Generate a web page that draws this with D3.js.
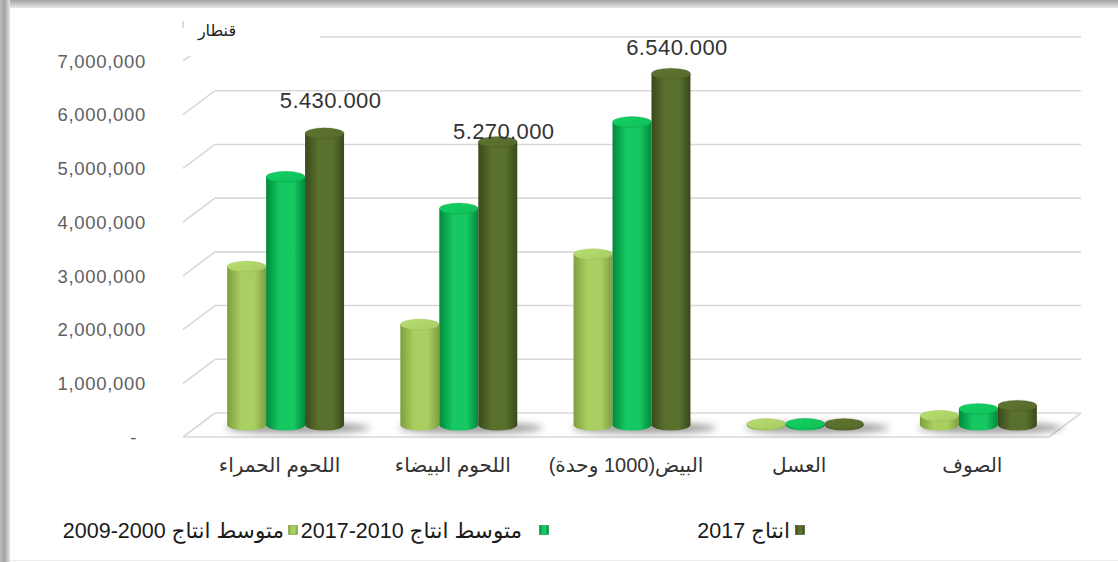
<!DOCTYPE html>
<html>
<head>
<meta charset="utf-8">
<script src="https://cdn.jsdelivr.net/npm/d3@7"></script>
<style>
  html, body { margin: 0; padding: 0; background: #ffffff; }
  svg { display: block; font-family: "Liberation Sans", Arial, "DejaVu Sans", sans-serif; }
</style>
</head>
<body>
<svg id="chart" width="1118" height="562"></svg>
<script>
// Livestock production, by product
const categories = ["اللحوم الحمراء", "اللحوم البيضاء", "البيض(1000 وحدة)", "العسل", "الصوف"];
const seriesNames = ["متوسط انتاج 2000-2009", "متوسط انتاج 2010-2017", "انتاج 2017"];
const avg2000_2009 = [2950000, 1870000, 3180000, 18000, 170000];
const avg2010_2017 = [4620000, 4030000, 5640000, 22000, 300000];
const prod2017     = [5430000, 5270000, 6540000, 20000, 360000];
const valueLabels  = ["5.430.000", "5.270.000", "6.540.000"];
const yTicks = [0, 1000000, 2000000, 3000000, 4000000, 5000000, 6000000, 7000000];
const unitTitle = "قنطار";

const series = [avg2000_2009, avg2010_2017, prod2017];

// palette: [edge, highlight, top]
const palettes = [
  ["#7e9e3c", "#a9cf62", "#a6c964"],
  ["#00893b", "#16c862", "#10bd58"],
  ["#3a491c", "#5a712d", "#56692b"]
];

const svg = d3.select("#chart");
const W = 1118, H = 562;
const defs = svg.append("defs");

// ---- frame ----
const gTop = defs.append("linearGradient").attr("id", "frameTop").attr("x1", 0).attr("y1", 0).attr("x2", 0).attr("y2", 1);
gTop.append("stop").attr("offset", "0%").attr("stop-color", "#a4a4a4");
gTop.append("stop").attr("offset", "100%").attr("stop-color", "#e6e6e6");
const gLeft = defs.append("linearGradient").attr("id", "frameLeft").attr("x1", 0).attr("y1", 0).attr("x2", 1).attr("y2", 0);
gLeft.append("stop").attr("offset", "0%").attr("stop-color", "#bdbdbd");
gLeft.append("stop").attr("offset", "45%").attr("stop-color", "#a2a2a2");
gLeft.append("stop").attr("offset", "100%").attr("stop-color", "#e4e4e4");
svg.append("rect").attr("width", W).attr("height", H).attr("fill", "#ffffff");
svg.append("rect").attr("x", 0).attr("y", 0).attr("width", W).attr("height", 8).attr("fill", "url(#frameTop)");
svg.append("rect").attr("x", 0).attr("y", 0).attr("width", 10).attr("height", H).attr("fill", "url(#frameLeft)");
svg.append("line").attr("x1", 10).attr("x2", W).attr("y1", 560.5).attr("y2", 560.5).attr("stroke", "#ececec");

// ---- scales ----
// bars stand at mid depth of the floor; front and back planes offset from it
const depth = { dx: 16, dy: 12 };
const y = d3.scaleLinear().domain([0, 7000000]).range([425, 49]);
const x0 = d3.scaleBand().domain(categories).range([199, 1065]).paddingInner(0.325).paddingOuter(0.1625);
const x1 = d3.scaleBand().domain(d3.range(seriesNames.length)).range([0, x0.bandwidth()]);
const xLeft = x0.range()[0], xRight = x0.range()[1];

// ---- walls and floor ----
const grid = svg.append("g").attr("stroke", "#d9d9d9").attr("stroke-width", 1.6).attr("fill", "none");
yTicks.forEach(t => {
  const yb = y(t) - depth.dy, yf = y(t) + depth.dy;
  grid.append("line").attr("x1", xLeft + depth.dx).attr("x2", xRight + depth.dx).attr("y1", yb).attr("y2", yb);
  grid.append("line").attr("x1", xLeft - depth.dx).attr("x2", xLeft + depth.dx).attr("y1", yf).attr("y2", yb);
});
grid.append("line").attr("x1", xLeft - depth.dx).attr("x2", xRight - depth.dx)
  .attr("y1", y(0) + depth.dy).attr("y2", y(0) + depth.dy);
grid.append("line").attr("x1", xRight - depth.dx).attr("x2", xRight + depth.dx)
  .attr("y1", y(0) + depth.dy).attr("y2", y(0) - depth.dy);

// ---- y axis labels ----
const fmt = d3.format(",");
svg.append("g").selectAll("text").data(yTicks).join("text")
  .attr("x", d => d === 0 ? 137 : 146)
  .attr("y", d => y(d) + depth.dy)
  .attr("dy", "0.36em")
  .attr("text-anchor", "end")
  .attr("font-size", 18.5)
  .attr("letter-spacing", 0.7)
  .attr("fill", "#606060")
  .text(d => d === 0 ? "-" : fmt(d));

// unit title sits in its own box over the wall corner
svg.append("rect").attr("x", 178).attr("y", 12).attr("width", 142).attr("height", 44).attr("fill", "#ffffff");
svg.append("line").attr("x1", 183).attr("x2", 183).attr("y1", 21).attr("y2", 28).attr("stroke", "#c8c8c8").attr("stroke-width", 1.2);
svg.append("text").attr("x", 217).attr("y", 30).attr("dy", "0.35em").attr("text-anchor", "middle")
  .attr("font-size", 16).attr("fill", "#222").attr("font-family", "'DejaVu Sans', sans-serif").text(unitTitle);

// ---- cylinder gradients ----
palettes.forEach((p, i) => {
  const g = defs.append("linearGradient").attr("id", "body" + i).attr("x1", 0).attr("x2", 1).attr("y1", 0).attr("y2", 0);
  g.append("stop").attr("offset", "0%").attr("stop-color", p[0]);
  g.append("stop").attr("offset", "35%").attr("stop-color", p[1]);
  g.append("stop").attr("offset", "70%").attr("stop-color", p[1]);
  g.append("stop").attr("offset", "100%").attr("stop-color", p[0]);
  const t = defs.append("linearGradient").attr("id", "top" + i).attr("x1", 0).attr("x2", 1).attr("y1", 0).attr("y2", 1);
  t.append("stop").attr("offset", "0%").attr("stop-color", d3.color(p[2]).brighter(0.3));
  t.append("stop").attr("offset", "100%").attr("stop-color", p[2]);
});
const blur = defs.append("filter").attr("id", "shadow").attr("x", "-50%").attr("y", "-100%").attr("width", "200%").attr("height", "300%");
blur.append("feGaussianBlur").attr("stdDeviation", 3.5);

// ---- bars ----
const ry = 5.5;
const bars = svg.append("g");
categories.forEach((c, ci) => {
  const gx = x0(c);
  // soft shadow on the floor to the right of the group
  bars.append("ellipse")
    .attr("cx", gx + x0.bandwidth() / 2 + 12).attr("cy", y(0) + 3)
    .attr("rx", x0.bandwidth() / 2 + 14).attr("ry", 5.5)
    .attr("fill", "rgba(0,0,0,0.38)").attr("filter", "url(#shadow)");
  series.forEach((vals, si) => {
    const w = x1.bandwidth();
    const rx = w / 2;
    const cx = gx + x1(si) + rx;
    const yb = y(0), yt = y(vals[ci]);
    bars.append("path")
      .attr("d", `M${cx - rx},${yt} L${cx - rx},${yb} A${rx},${ry} 0 0 0 ${cx + rx},${yb} L${cx + rx},${yt} Z`)
      .attr("fill", `url(#body${si})`);
    bars.append("ellipse")
      .attr("cx", cx).attr("cy", yt).attr("rx", rx).attr("ry", ry)
      .attr("fill", `url(#top${si})`)
      .attr("stroke", d3.color(palettes[si][0]).copy({opacity: 0.35})).attr("stroke-width", 0.6);
  });
});

// ---- value labels over the latest year's bars ----
const labelLift = [25, 3, 19];
svg.append("g").selectAll("text").data(valueLabels).join("text")
  .attr("x", (d, i) => x0(categories[i]) + x1(2) + x1.bandwidth() / 2 + 6)
  .attr("y", (d, i) => y(prod2017[i]) - labelLift[i])
  .attr("text-anchor", "middle")
  .attr("font-size", 22)
  .attr("letter-spacing", 0.4)
  .attr("fill", "#333333")
  .text(d => d);

// ---- category labels ----
svg.append("g").selectAll("text").data(categories).join("text")
  .attr("x", d => x0(d) + x0.bandwidth() / 2 - 6)
  .attr("y", 465)
  .attr("dy", "0.35em")
  .attr("text-anchor", "middle")
  .attr("font-size", 20)
  .attr("fill", "#333333")
  .attr("direction", "rtl")
  .text(d => d);

// ---- legend (right to left) ----
const legendMarkers = [293, 544, 800];
const legendTextRight = [284, 522, 790];
const leg = svg.append("g");
seriesNames.forEach((t, i) => {
  const mx = legendMarkers[i];
  leg.append("rect").attr("x", mx - 4.5).attr("y", 525.5).attr("width", 9).attr("height", 9)
    .attr("fill", `url(#body${i})`).attr("stroke", palettes[i][0]).attr("stroke-width", 0.6);
  leg.append("text")
    .attr("x", legendTextRight[i]).attr("y", 530).attr("dy", "0.35em")
    .attr("direction", "rtl").attr("text-anchor", "start")
    .attr("font-size", 21.5).attr("fill", "#1a1a1a")
    .text(t);
});
</script>
</body>
</html>
